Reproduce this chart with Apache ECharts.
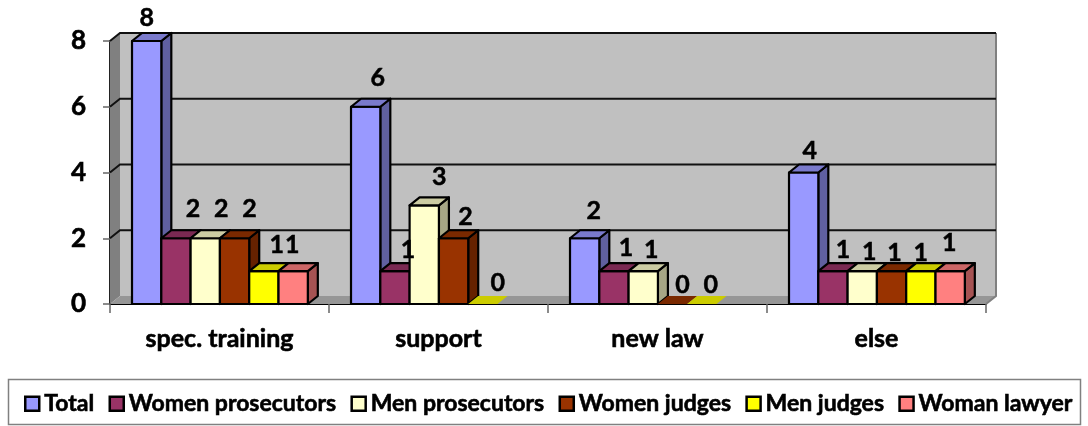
<!DOCTYPE html>
<html><head><meta charset="utf-8">
<style>html,body{margin:0;padding:0;background:#fff}#c{width:1088px;height:426px}</style>
<script src="https://cdn.jsdelivr.net/npm/echarts@6/dist/echarts.min.js"></script>
</head><body><div id="c"></div>
<script>
const categories = ['spec. training', 'support', 'new law', 'else'];
const axisTicks = [0, 2, 4, 6, 8];
const total = [8, 6, 2, 4];
const womenProsecutors = [2, 1, 1, 1];
const menProsecutors = [2, 3, 1, 1];
const womenJudges = [2, 2, 0, 1];
const menJudges = [1, 0, 0, 1];
const womanLawyer = [1, null, null, 1];

const FONT = 'Lato';
const DX = 10, DY = -8;               // 3D depth offset
const GAP = 0.1005, BAR = 0.1338;     // shares of a category band

const seriesDefs = [
  {name: 'Total', data: total, front: '#9999FF', top: '#7A7ACC', side: '#6060A0',
   nudge: [[0,-23],[12,-29],[9,-27],[6,-22]]},
  {name: 'Women prosecutors', data: womenProsecutors, front: '#993366', top: '#7A2952', side: '#662244',
   nudge: [[17,-29],[13,-21],[12,-23],[10,-21]]},
  {name: 'Men prosecutors', data: menProsecutors, front: '#FFFFCC', top: '#CCCCA3', side: '#A6A685',
   nudge: [[16,-29],[15,-28],[8,-21],[7,-19]]},
  {name: 'Women judges', data: womenJudges, front: '#993300', top: '#7A2900', side: '#662200',
   nudge: [[15,-29],[12,-21],[10,-19],[3,-18]]},
  {name: 'Men judges', data: menJudges, front: '#FFFF00', top: '#CCCC00', side: '#A6A600',
   nudge: [[13,-26],[15,-21],[9,-19],[0,-18]]},
  {name: 'Woman lawyer', data: womanLawyer, front: '#FF8080', top: '#CC6666', side: '#A65353',
   nudge: [[-1,-26],[0,0],[0,0],[-1,-28]]}
];

function poly(points, fill, stroke, width, z2) {
  return {type: 'polygon', shape: {points}, z2: z2 || 0,
    style: {fill, stroke: stroke || 'none', lineWidth: width === undefined ? 2.2 : width, lineJoin: 'round'}};
}

function renderWall(params, api) {
  const cs = params.coordSys;
  const v = api.value(0);
  const y = api.coord([0, v])[1];
  const l = cs.x, r = cs.x + cs.width, t = cs.y, b = cs.y + cs.height;
  const children = [];
  if (params.dataIndex === 0) {
    children.push(poly([[l+DX,t+DY],[r+DX,t+DY],[r+DX,b+DY],[l+DX,b+DY]], '#C0C0C0', 'none', 0));
    children.push(poly([[l,t],[l+DX,t+DY],[l+DX,b+DY],[l,b]], '#808080', 'none', 0));
    children.push(poly([[l,b],[l+DX,b+DY],[r+DX,b+DY],[r,b]], '#969696', 'none', 0));
    children.push({type: 'polyline', shape: {points: [[r+DX,t+DY],[r+DX,b+DY],[r,b]]},
      style: {fill: 'none', stroke: '#808080', lineWidth: 2}});
  }
  if (v !== 0) {
    children.push({type: 'polyline', shape: {points: [[l,y],[l+DX,y+DY],[r+DX,y+DY]]},
      style: {fill: 'none', stroke: '#111', lineWidth: 2}});
  }
  return {type: 'group', children};
}

function makeBarRenderer(def, i) {
  return function (params, api) {
    const c = api.value(0), val = api.value(1);
    if (val === null || val === undefined || isNaN(val)) return null;
    const band = api.size([1, 0])[0];
    const p = api.coord([c, val]);
    const y0 = api.coord([c, 0])[1];
    const w = band * BAR;
    const x = p[0] - band / 2 + band * GAP + w * i;
    const y = p[1];
    const n = def.nudge[params.dataIndex];
    const children = [];
    if (val > 0) {
      children.push(poly([[x+w,y],[x+w+DX,y+DY],[x+w+DX,y0+DY],[x+w,y0]], def.side, '#000'));
      children.push(poly([[x,y],[x+w,y],[x+w,y0],[x,y0]], def.front, '#000'));
      children.push(poly([[x,y],[x+DX,y+DY],[x+w+DX,y+DY],[x+w,y]], def.top, '#000'));
    } else {
      children.push(poly([[x,y],[x+DX,y+DY],[x+w+DX,y+DY],[x+w,y]], def.top, 'none', 0));
    }
    children.push({type: 'text', z2: 100, style: {
      text: String(val), x: x + w/2 + n[0], y: y + n[1],
      align: 'center', verticalAlign: 'middle',
      font: 'bold 25px ' + FONT, fill: '#000', stroke: '#000', lineWidth: 0.5}});
    return {type: 'group', children};
  };
}

const heavy = {textBorderColor: '#000', textBorderWidth: 0.6};
const chart = echarts.init(document.getElementById('c'), null, {renderer: 'canvas'});
chart.setOption({
  animation: false,
  backgroundColor: '#fff',
  grid: {left: 110, right: 102, top: 41, bottom: 122, containLabel: false},
  xAxis: {
    type: 'category', data: categories, boundaryGap: true,
    axisLine: {show: true, lineStyle: {color: '#000', width: 2}},
    axisTick: {show: true, alignWithLabel: false, length: 9, lineStyle: {color: '#666', width: 1.5}},
    axisLabel: Object.assign({color: '#000', fontFamily: FONT, fontWeight: 'bold', fontSize: 25, margin: 22, interval: 0}, heavy),
    splitLine: {show: false}
  },
  yAxis: {
    type: 'value', min: 0, max: 8, interval: 2,
    axisLine: {show: true, onZero: false, lineStyle: {color: '#222', width: 2}},
    axisTick: {show: true, length: 7, lineStyle: {color: '#666', width: 1.5}},
    axisLabel: Object.assign({color: '#000', fontFamily: FONT, fontWeight: 'bold', fontSize: 26, margin: 24}, heavy),
    splitLine: {show: false}
  },
  legend: {
    left: 24, top: 392, padding: 0, itemGap: 14, itemWidth: 14, itemHeight: 14, icon: 'rect',
    selectedMode: false,
    data: seriesDefs.map(d => d.name),
    itemStyle: {borderColor: '#000', borderWidth: 2.5},
    textStyle: Object.assign({color: '#000', fontFamily: FONT, fontWeight: 'bold', fontSize: 23}, heavy)
  },
  graphic: [{type: 'rect', silent: true, z: -1,
    shape: {x: 8.5, y: 379.5, width: 1072, height: 45},
    style: {fill: '#fff', stroke: '#808080', lineWidth: 1.5}}],
  series: [
    {type: 'custom', name: 'wall', z: 1, silent: true, clip: false, renderItem: renderWall,
     encode: {y: 0}, data: axisTicks.map(v => [v]), tooltip: {show: false}}
  ].concat(seriesDefs.map((d, i) => ({
    type: 'custom', name: d.name, z: 2, silent: true, clip: false,
    renderItem: makeBarRenderer(d, i),
    itemStyle: {color: d.front, borderColor: '#000', borderWidth: 2.5},
    encode: {x: 0, y: 1},
    data: d.data.map((v, k) => [k, v === null ? '-' : v])
  })))
});
</script></body></html>
